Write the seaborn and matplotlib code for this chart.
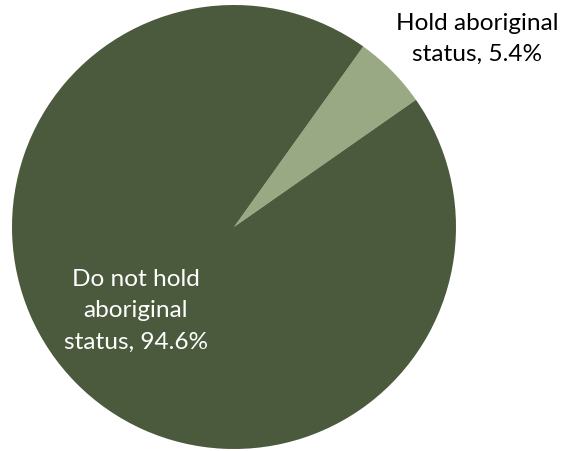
import matplotlib
matplotlib.use("Agg")
import matplotlib.pyplot as plt
import seaborn as sns

# Share of people by aboriginal status
categories = ["Hold aboriginal status", "Do not hold aboriginal status"]
label_lines = ["Hold aboriginal\nstatus", "Do not hold\naboriginal\nstatus"]
shares = [5.4, 94.6]

sns.set_theme(style="white")
plt.rcParams["font.family"] = ["Lato", "DejaVu Sans"]

colors = ["#99A984", "#4B5A3C"]
text_colors = ["#000000", "#FFFFFF"]

W, H, DPI = 564, 452, 100
fig = plt.figure(figsize=(W / DPI, H / DPI), dpi=DPI)
ax = fig.add_axes([0, 0, 1, 1])

# pie geometry in pixels
cx, cy, r = 234.0, 228.0, 222.0

ax.pie(shares, colors=colors, startangle=54.4, counterclock=False,
       radius=1.0, center=(0, 0), wedgeprops=dict(linewidth=0))

ax.set_xlim(-cx / r, (W - cx) / r)
ax.set_ylim(-(H - cy) / r, cy / r)
ax.set_aspect("equal")
ax.axis("off")

def px(x, y):
    return (x - cx) / r, (cy - y) / r

label_pos = [(477, 39), (136, 311)]
for text, val, (x, y), col in zip(label_lines, shares, label_pos, text_colors):
    dx, dy = px(x, y)
    ax.text(dx, dy, f"{text}, {val:.1f}%", ha="center", va="center",
            fontsize=17.6, color=col, linespacing=1.6)

fig.savefig("out.png", dpi=DPI, facecolor="white")
